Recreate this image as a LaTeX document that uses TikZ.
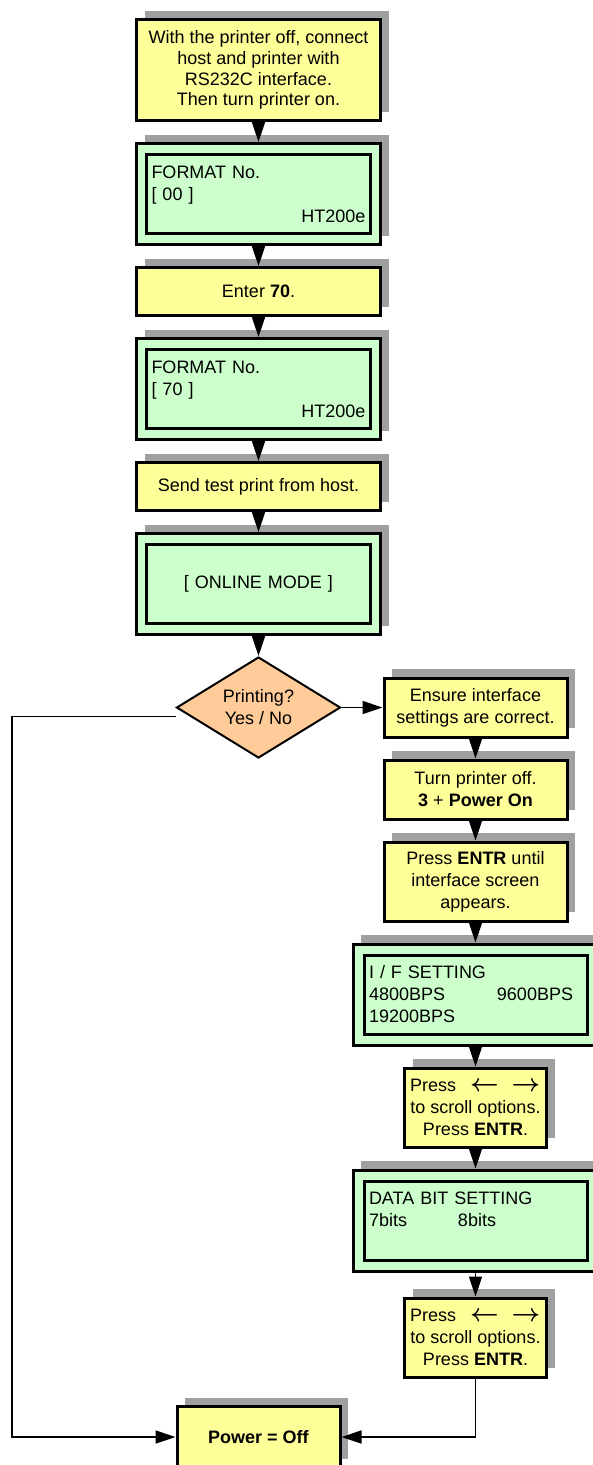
\documentclass[tikz,border=0pt]{standalone}
\usepackage{fontspec}
\setmainfont{Liberation Sans}
\usetikzlibrary{arrows.meta, positioning, shapes.geometric, shadows}
\definecolor{cyel}{HTML}{FFFF99}
\definecolor{cgrn}{HTML}{CCFFCC}
\definecolor{corg}{HTML}{FFCC99}
\definecolor{cshd}{HTML}{A0A0A0}
\definecolor{cline}{HTML}{000000}
\newcommand{\scrollkeys}{{\fontsize{23}{22}\selectfont\boldmath$\leftarrow$\hspace{13pt}$\rightarrow$}}

\begin{document}
\begin{tikzpicture}[
  x=1pt, y=1pt,
  font=\fontsize{18}{22}\selectfont,
  node distance=20pt,
  shd/.style={drop shadow={shadow xshift=8pt, shadow yshift=9pt, fill=cshd, opacity=1}},
  stepbox/.style={draw, line width=3pt, fill=cyel, align=center, inner sep=0pt,
                  minimum width=244pt, shd},
  lcd/.style={draw, line width=3pt, fill=cgrn, minimum width=244pt, minimum height=101pt, shd},
  screen/.style={draw, line width=3pt, fill=cgrn, inner xsep=5pt, inner ysep=0pt,
                 minimum height=79pt, text width=214pt, align=left},
  decide/.style={diamond, draw, line width=2pt, fill=corg, align=center, inner sep=0pt,
                 minimum width=164pt, minimum height=101pt, aspect=1.62},
  conn/.style={line width=1.5pt, draw=cline, -{Triangle[length=20pt, width=13pt]}},
  ]
\useasboundingbox (0,0) rectangle (592,-1465);

\node[stepbox, minimum height=101pt, font=\fontsize{18}{20.7}\selectfont] (connect) at (258.5,-70)
  {With the printer off, connect\\host and printer with\\RS232C interface.\\Then turn printer on.};
\node[lcd, below=of connect] (fmtA) {};
\node[screen] (fmtA-txt) at (fmtA) {FORMAT No.\\{[} 00 ]\\\hspace*{\fill}HT200e\hspace*{17pt}};
\node[stepbox, minimum height=48pt, below=of fmtA] (enter) {Enter \textbf{70}.};
\node[lcd, below=of enter] (fmtB) {};
\node[screen] (fmtB-txt) at (fmtB) {FORMAT No.\\{[} 70 ]\\\hspace*{\fill}HT200e\hspace*{17pt}};
\node[stepbox, minimum height=48pt, below=of fmtB] (send) {Send test print from host.};
\node[lcd, below=of send] (online) {};
\node[screen, align=center] (online-txt) at (online) {{[} ONLINE MODE ]};
\node[decide, below=of online] (dec) {Printing?\\Yes / No};

\node[stepbox, minimum width=183pt, minimum height=59pt, right=41pt of dec] (ensure)
  {Ensure interface\\settings are correct.};
\node[stepbox, minimum width=183pt, minimum height=59pt, below=of ensure] (turnoff)
  {Turn printer off.\\\textbf{3} + \textbf{Power On}};
\node[stepbox, minimum width=183pt, minimum height=79pt, below=of turnoff] (untilif)
  {Press \textbf{ENTR} until\\interface screen\\appears.};
\node[lcd, minimum width=245pt, below=of untilif] (ifset) {};
\node[screen, minimum width=223pt, text width=213pt] (ifset-txt) at (ifset)
  {I / F SETTING\\\makebox[128pt][l]{4800BPS}9600BPS\\19200BPS};
\node[stepbox, minimum width=142pt, minimum height=79pt, below=of ifset] (scrollA)
  {\makebox[131pt][l]{Press\hspace{14pt}\scrollkeys}\\to scroll options.\\Press \textbf{ENTR}.};
\node[lcd, minimum width=245pt, below=of scrollA] (databit) {};
\node[screen, minimum width=223pt, text width=213pt] (databit-txt) at (databit)
  {DATA BIT SETTING\\\makebox[89pt][l]{7bits}8bits\\\mbox{}};
\node[stepbox, minimum width=142pt, minimum height=79pt, below=24pt of databit] (scrollB)
  {\makebox[131pt][l]{Press\hspace{14pt}\scrollkeys}\\to scroll options.\\Press \textbf{ENTR}.};

\node[stepbox, minimum width=163pt, minimum height=61pt] (power) at (258.5,-1437) {\textbf{Power = Off}};
\coordinate (lft) at (12,0);
\coordinate (decw) at ([yshift=-9pt]dec.west);

\draw[conn] (connect.south) -- (fmtA.north);
\draw[conn] (fmtA.south) -- (enter.north);
\draw[conn] (enter.south) -- (fmtB.north);
\draw[conn] (fmtB.south) -- (send.north);
\draw[conn] (send.south) -- (online.north);
\draw[conn] (online.south) -- (dec.north);
\draw[conn] (dec.east) -- (ensure.west);
\draw[conn] (ensure.south) -- (turnoff.north);
\draw[conn] (turnoff.south) -- (untilif.north);
\draw[conn] (untilif.south) -- (ifset.north);
\draw[conn] (ifset.south) -- (scrollA.north);
\draw[conn] (scrollA.south) -- (databit.north);
\draw[conn] (databit.south) -- (scrollB.north);
\draw[conn] (decw) -- (decw -| lft) |- (power.west);
\draw[conn] (scrollB.south) |- (power.east);
\end{tikzpicture}
\end{document}
